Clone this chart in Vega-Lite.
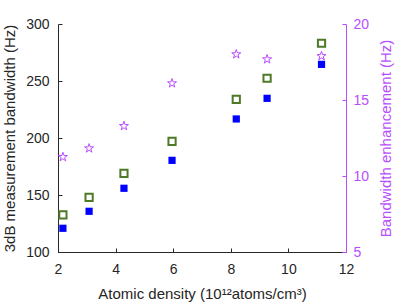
{
  "$schema": "https://vega.github.io/schema/vega-lite/v6.json",
  "width": 288,
  "height": 228,
  "autosize": {"type": "none"},
  "padding": {"left": 58, "top": 24, "right": 49, "bottom": 54},
  "background": "white",
  "config": {
    "view": {"stroke": null},
    "font": "Liberation Sans",
    "axis": {
      "grid": false,
      "labelFont": "Liberation Sans",
      "titleFont": "Liberation Sans",
      "labelFontSize": 14,
      "titleFontSize": 15,
      "titleFontWeight": "normal",
      "tickSize": -4,
      "domainWidth": 1,
      "tickWidth": 1
    }
  },
  "data": {
    "values": [
      {"density": 2.17, "blue": 120.8, "green": 132.5, "enh": 11.25},
      {"density": 3.08, "blue": 135.7, "green": 148.0, "enh": 11.82},
      {"density": 4.29, "blue": 155.9, "green": 169.0, "enh": 13.29},
      {"density": 5.96, "blue": 180.4, "green": 197.1, "enh": 16.10},
      {"density": 8.19, "blue": 216.7, "green": 233.9, "enh": 18.01},
      {"density": 9.26, "blue": 234.8, "green": 252.4, "enh": 17.68},
      {"density": 11.15, "blue": 264.6, "green": 283.1, "enh": 17.89}
    ]
  },
  "encoding": {
    "x": {
      "field": "density",
      "type": "quantitative",
      "scale": {"domain": [2, 12], "nice": false, "zero": false},
      "axis": {
        "values": [2, 4, 6, 8, 10, 12],
        "title": "Atomic density (10¹²atoms/cm³)",
        "domainColor": "#262626",
        "tickColor": "#262626",
        "labelColor": "#262626",
        "titleColor": "#262626",
        "labelPadding": 14,
        "titlePadding": 10,
        "labelFlush": false
      }
    }
  },
  "layer": [
    {
      "layer": [
        {
          "mark": {"type": "point", "shape": "square", "filled": true, "color": "#0000ff", "size": 52, "opacity": 1},
          "encoding": {
            "y": {
              "field": "blue",
              "type": "quantitative",
              "scale": {"domain": [100, 300], "nice": false, "zero": false},
              "axis": {
                "values": [100, 150, 200, 250, 300],
                "title": "3dB measurement bandwidth (Hz)",
                "domainColor": "#262626",
                "tickColor": "#262626",
                "labelColor": "#262626",
                "titleColor": "#262626",
                "labelPadding": 13,
                "titlePadding": 8,
                "labelFlush": false
              }
            }
          }
        },
        {
          "mark": {"type": "point", "shape": "square", "filled": false, "fill": "white", "stroke": "#4e7a27", "strokeWidth": 2, "size": 52, "opacity": 1},
          "encoding": {
            "y": {"field": "green", "type": "quantitative"}
          }
        }
      ]
    },
    {
      "mark": {
        "type": "point",
        "shape": "M0,-1L0.225,-0.309L0.951,-0.309L0.363,0.118L0.588,0.809L0,0.382L-0.588,0.809L-0.363,0.118L-0.951,-0.309L-0.225,-0.309Z",
        "filled": false,
        "stroke": "#b84dff",
        "strokeWidth": 1,
        "size": 90,
        "opacity": 1
      },
      "encoding": {
        "y": {
          "field": "enh",
          "type": "quantitative",
          "scale": {"domain": [5, 20], "nice": false, "zero": false},
          "axis": {
            "orient": "right",
            "values": [5, 10, 15, 20],
            "title": "Bandwidth enhancement (Hz)",
            "titleAngle": 270,
            "domainColor": "#b84dff",
            "tickColor": "#b84dff",
            "labelColor": "#b84dff",
            "titleColor": "#b84dff",
            "labelPadding": 11,
            "titlePadding": 25,
            "labelFlush": false
          }
        }
      }
    }
  ],
  "resolve": {"scale": {"y": "independent"}}
}
